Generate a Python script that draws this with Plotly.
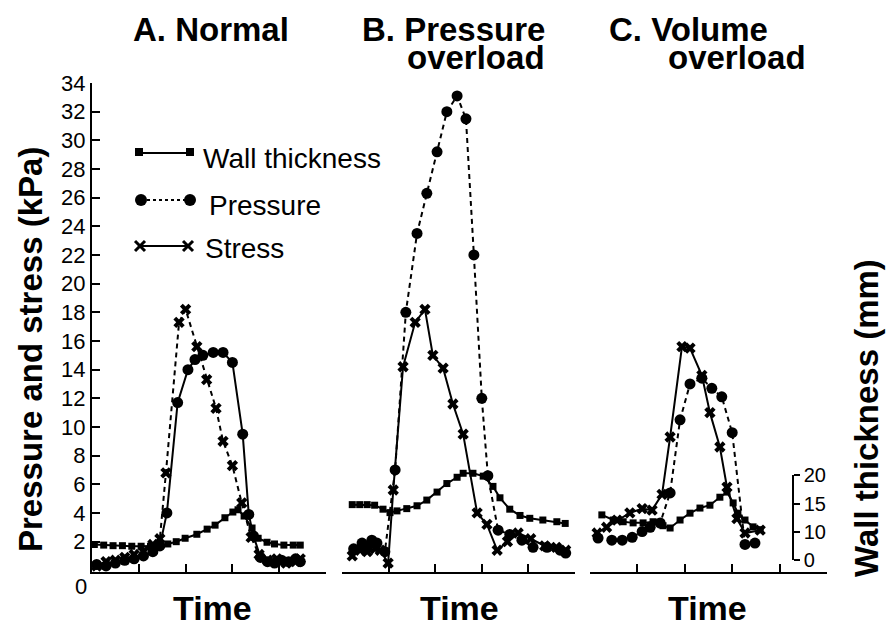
import plotly.graph_objects as go

# ---------------- data ----------------
# Panel A: Normal
tA_wall = [0.05, 0.25, 0.45, 0.65, 0.85, 1.05, 1.25, 1.45, 1.62, 1.8, 1.99, 2.24, 2.46, 2.63, 2.84, 3.01, 3.12, 3.25, 3.42, 3.55, 3.74, 3.9, 4.1, 4.3, 4.45]
wall_A = [7.8, 7.7, 7.6, 7.6, 7.5, 7.5, 7.5, 7.6, 7.9, 8.3, 8.9, 9.6, 10.5, 11.2, 12.5, 13.5, 13.9, 12.8, 10.7, 8.9, 8.2, 7.9, 7.7, 7.7, 7.7]
tA_pres = [0.1, 0.3, 0.5, 0.7, 0.9, 1.1, 1.3, 1.45, 1.6, 1.83, 2.05, 2.2, 2.37, 2.59, 2.8, 3.0, 3.22, 3.35, 3.45, 3.6, 3.75, 3.9, 4.05, 4.2, 4.35, 4.45]
pres_A = [0.4, 0.3, 0.5, 0.7, 0.8, 1.0, 1.3, 1.7, 4.0, 11.7, 14.0, 14.7, 15.0, 15.2, 15.2, 14.5, 9.5, 3.9, 2.4, 0.9, 0.6, 0.5, 0.7, 0.6, 0.8, 0.6]
tA_str = [0.1, 0.3, 0.5, 0.7, 0.9, 1.1, 1.3, 1.45, 1.58, 1.86, 2.0, 2.24, 2.45, 2.65, 2.8, 3.0, 3.2, 3.4, 3.57, 3.75, 3.95, 4.15, 4.35, 4.45]
str_A = [0.3, 0.6, 0.7, 0.9, 1.1, 1.3, 1.8, 2.2, 6.8, 17.3, 18.2, 15.6, 13.3, 11.3, 9.0, 7.3, 4.7, 2.3, 1.1, 0.7, 0.8, 0.5, 0.6, 0.8]

# Panel B: Pressure overload
tB_wall = [0.22, 0.38, 0.54, 0.7, 0.88, 1.03, 1.18, 1.39, 1.61, 1.82, 2.04, 2.25, 2.47, 2.6, 2.81, 3.03, 3.24, 3.39, 3.6, 3.82, 4.03, 4.31, 4.61, 4.79]
wall_B = [14.8, 14.8, 14.8, 14.7, 14.0, 13.4, 13.7, 14.1, 14.6, 15.6, 17.0, 18.5, 19.6, 20.3, 20.3, 19.8, 18.0, 16.0, 14.0, 12.9, 12.4, 12.1, 11.8, 11.5]
tB_pres = [0.25, 0.43, 0.54, 0.64, 0.75, 0.92, 1.14, 1.37, 1.61, 1.82, 2.04, 2.25, 2.47, 2.66, 2.83, 3.0, 3.13, 3.35, 3.6, 3.86, 4.1, 4.4, 4.68, 4.8]
pres_B = [1.5, 1.9, 1.7, 2.1, 1.9, 1.3, 7.0, 18.0, 23.5, 26.3, 29.2, 32.0, 33.1, 31.5, 22.0, 12.0, 6.6, 2.8, 2.5, 2.1, 1.6, 1.6, 1.4, 1.2]
tB_str = [0.22, 0.39, 0.54, 0.71, 0.82, 0.99, 1.1, 1.31, 1.57, 1.78, 1.95, 2.17, 2.38, 2.6, 2.9, 3.11, 3.33, 3.55, 3.78, 4.05, 4.35, 4.6, 4.8]
str_B = [1.0, 1.4, 1.3, 1.5, 1.4, 0.5, 5.6, 14.2, 17.3, 18.2, 15.0, 14.1, 11.6, 9.5, 4.0, 3.2, 1.4, 2.0, 2.6, 2.2, 1.7, 1.6, 1.4]

# Panel C: Volume overload
tC_wall = [0.25, 0.49, 0.7, 0.91, 1.12, 1.33, 1.54, 1.69, 1.9, 2.11, 2.32, 2.53, 2.74, 2.89, 3.02, 3.12, 3.27, 3.44, 3.59]
wall_C = [13.0, 12.1, 11.8, 11.6, 11.6, 11.8, 11.1, 10.7, 12.1, 13.3, 14.2, 14.7, 16.1, 17.0, 15.1, 13.3, 12.1, 10.9, 10.4]
tC_pres = [0.17, 0.46, 0.68, 0.89, 1.1, 1.27, 1.48, 1.69, 1.9, 2.11, 2.36, 2.57, 2.78, 3.0, 3.27, 3.48]
pres_C = [2.25, 2.1, 2.1, 2.3, 2.7, 3.0, 3.3, 5.4, 10.5, 13.0, 13.4, 12.7, 12.1, 9.6, 1.8, 1.9]
tC_str = [0.15, 0.35, 0.57, 0.84, 1.1, 1.31, 1.52, 1.69, 1.94, 2.11, 2.36, 2.53, 2.74, 2.89, 3.1, 3.27, 3.59]
str_C = [2.6, 3.0, 3.5, 4.0, 4.3, 4.2, 5.3, 9.3, 15.6, 15.5, 13.6, 11.0, 8.6, 5.8, 3.6, 2.6, 2.8]

y_ticks = list(range(2, 35, 2))
wall_ticks = [10, 15, 20]

# ---------------- figure ----------------
W, H = 887, 628
FONT = "Liberation Sans, Arial, Helvetica, sans-serif"


def px(x):
    return x / W


def py(y):
    return 1 - y / H


fig = go.Figure()
DASH = "5px,4px"


def add_series(t, v, xa, ya, symbol, size, dash):
    fig.add_trace(go.Scatter(
        x=t, y=v, xaxis=xa, yaxis=ya, mode="lines+markers",
        line=dict(color="black", width=2, dash=dash),
        marker=dict(symbol=symbol, size=size, color="black", line=dict(width=0)),
        showlegend=False, hoverinfo="skip"))


panels = [
    ("x", tA_wall, wall_A, tA_pres, pres_A, "solid", tA_str, str_A, DASH),
    ("x2", tB_wall, wall_B, tB_pres, pres_B, DASH, tB_str, str_B, "solid"),
    ("x3", tC_wall, wall_C, tC_pres, pres_C, DASH, tC_str, str_C, "solid"),
]
for xa, tw, w, tp, p, pdash, ts, s, sdash in panels:
    add_series(tw, w, xa, "y4", "square", 7, "solid")
    add_series(tp, p, xa, "y", "circle", 11, pdash)
    add_series(ts, s, xa, "y", "x", 10, sdash)

# anchor trace for the wall-thickness scale bracket
fig.add_trace(go.Scatter(x=[None], y=[None], xaxis="x3", yaxis="y5",
                         showlegend=False, hoverinfo="skip"))

xcommon = dict(range=[0, 5], showline=True, linecolor="black", linewidth=2,
               ticks="inside", ticklen=8, tickwidth=2, tickcolor="black",
               showticklabels=False, showgrid=False, zeroline=False, anchor="y",
               automargin=False)

Y0_PX, Y1_PX = 572, 83
fig.update_layout(
    width=W, height=H, margin=dict(l=0, r=0, t=0, b=0, pad=0, autoexpand=False),
    showlegend=False,
    paper_bgcolor="white", plot_bgcolor="rgba(0,0,0,0)",
    font=dict(family=FONT, color="black"),
    xaxis=dict(domain=[px(92), px(326)], tickvals=[1, 2, 3, 4, 5], **xcommon),
    xaxis2=dict(domain=[px(342), px(575)], tickvals=[0, 1, 2, 3, 4, 5], **xcommon),
    xaxis3=dict(domain=[px(590), px(827)], tickvals=[0, 1, 2, 3, 4, 5], **xcommon),
    yaxis=dict(domain=[py(Y0_PX), py(Y1_PX)], range=[-0.12, 34.0], anchor="x",
               showline=True, linecolor="black", linewidth=2,
               ticks="inside", ticklen=8, tickwidth=2, tickcolor="black",
               tickvals=y_ticks, tickfont=dict(size=22, family=FONT),
               showgrid=False, zeroline=False, automargin=False),
    yaxis4=dict(overlaying="y", range=[2.98, 88.77], visible=False, anchor="x",
                automargin=False),
    yaxis5=dict(domain=[py(560), py(475)], range=[5.09, 20], anchor="free",
                position=px(793), side="right", showline=True, linecolor="black",
                linewidth=1.5, ticks="outside", ticklen=6, tickwidth=1.5,
                tickcolor="black", tickvals=[5.09] + wall_ticks,
                ticktext=["0"] + [str(v) for v in wall_ticks],
                tickfont=dict(size=20, family=FONT), showgrid=False, zeroline=False,
                automargin=False),
)

ann = []
TS = 33
ann.append(dict(text="<b>A. Normal</b>", x=px(211), y=py(30), xanchor="center", yanchor="middle",
                font=dict(size=TS)))
ann.append(dict(text="<b>B. Pressure</b>", x=px(547), y=py(30), xanchor="right", yanchor="middle",
                font=dict(size=TS)))
ann.append(dict(text="<b>overload</b>", x=px(547), y=py(58), xanchor="right", yanchor="middle",
                font=dict(size=TS)))
ann.append(dict(text="<b>C. Volume</b>", x=px(688), y=py(30), xanchor="center", yanchor="middle",
                font=dict(size=TS)))
ann.append(dict(text="<b>overload</b>", x=px(737), y=py(58), xanchor="center", yanchor="middle",
                font=dict(size=TS)))
for cx in (212, 459, 707):
    ann.append(dict(text="<b>Time</b>", x=px(cx), y=py(608), xanchor="center", yanchor="middle",
                    font=dict(size=34)))
ann.append(dict(text="<b>Pressure and stress (kPa)</b>", x=px(30), y=py(350), textangle=-90,
                xanchor="center", yanchor="middle", font=dict(size=TS)))
ann.append(dict(text="<b>Wall thickness (mm)</b>", x=px(866), y=py(418), textangle=-90,
                xanchor="center", yanchor="middle", font=dict(size=TS)))
ann.append(dict(text="0", x=px(89), y=py(586), xanchor="right", yanchor="middle",
                font=dict(size=22)))
LEG = 28
ann.append(dict(text="Wall thickness", x=px(201), y=py(158), xanchor="left", yanchor="middle",
                font=dict(size=LEG)))
ann.append(dict(text="Pressure", x=px(207), y=py(205), xanchor="left", yanchor="middle",
                font=dict(size=LEG)))
ann.append(dict(text="Stress", x=px(203), y=py(249), xanchor="left", yanchor="middle",
                font=dict(size=LEG)))
for a in ann:
    a.update(xref="paper", yref="paper", showarrow=False)
fig.update_layout(annotations=ann)

# legend glyphs (shapes in paper coords)
shapes = []


def line(x0, y0, x1, y1, w=2, dash="solid"):
    shapes.append(dict(type="line", xref="paper", yref="paper", x0=px(x0), y0=py(y0),
                       x1=px(x1), y1=py(y1), line=dict(color="black", width=w, dash=dash)))


def square(cx, cy, r):
    shapes.append(dict(type="rect", xref="paper", yref="paper", x0=px(cx - r), x1=px(cx + r),
                       y0=py(cy + r), y1=py(cy - r), fillcolor="black", line=dict(width=0)))


def circle(cx, cy, r):
    shapes.append(dict(type="circle", xref="paper", yref="paper", x0=px(cx - r), x1=px(cx + r),
                       y0=py(cy + r), y1=py(cy - r), fillcolor="black", line=dict(width=0)))


def cross(cx, cy, r):
    line(cx - r, cy - r, cx + r, cy + r, w=3)
    line(cx - r, cy + r, cx + r, cy - r, w=3)


line(139, 153, 190, 153)
square(139, 152, 4)
square(190, 152, 4)
line(141, 200, 190, 200, dash="dot")
circle(141, 200, 6)
circle(190, 200, 6)
line(140, 246, 188, 246)
cross(140, 246, 5)
cross(188, 246, 5)
fig.update_layout(shapes=shapes)

fig.write_html("out.html")
